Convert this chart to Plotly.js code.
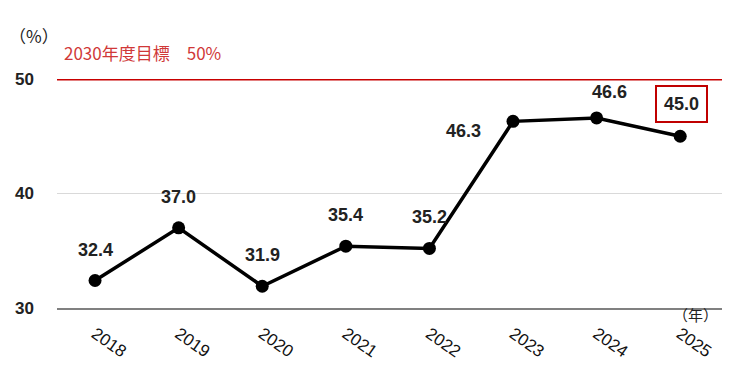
<!DOCTYPE html>
<html><head><meta charset="utf-8">
<script src="https://cdn.plot.ly/plotly-3.0.1.min.js"></script>
<style>html,body{margin:0;padding:0;background:#fff}#chart{width:740px;height:370px}</style>
</head><body><div id="chart"></div>
<script>
const years = ["2018","2019","2020","2021","2022","2023","2024","2025"];
const values = [32.4, 37.0, 31.9, 35.4, 35.2, 46.3, 46.6, 45.0];
const labels = ["32.4","37.0","31.9","35.4","35.2","46.3","46.6","45.0"];
const yTicks = [30, 40, 50];
const targetValue = 50;
const targetLabel = "2030年度目標　50%";

const numFont = "Liberation Sans, Arial, sans-serif";
const jpFont = "Noto Sans CJK JP, sans-serif";

// label pixel offsets
const lblShiftX = [0, 0, 0, 0, 0, -50, 13, 1];
const lblShiftY = [31, 31, 31, 31, 31, -10, 26, 32];

const annotations = years.map((yr, i) => {
  const a = {
    x: i, y: values[i], xref: 'x', yref: 'y',
    xanchor: 'center', yanchor: 'middle',
    text: '<b>' + labels[i] + '</b>', showarrow: false,
    xshift: lblShiftX[i], yshift: lblShiftY[i],
    font: {family: numFont, size: 18, color: '#222'}
  };
  if (i === years.length - 1) {
    a.bordercolor = '#c00000'; a.borderwidth = 2; a.borderpad = 7;
  }
  return a;
});
annotations.push({
  xref: 'paper', yref: 'y', x: 0.008, y: targetValue, yshift: 27, xanchor: 'left', yanchor: 'middle',
  text: targetLabel, showarrow: false,
  font: {family: jpFont, size: 17, color: '#d03838'}
});
annotations.push({
  xref: 'paper', yref: 'paper', x: 0, y: 1, yshift: 44, xshift: 4, xanchor: 'right', yanchor: 'middle',
  text: '（%）', showarrow: false,
  font: {family: jpFont, size: 17, color: '#222'}
});
annotations.push({
  xref: 'paper', yref: 'paper', x: 1.0, y: 0, yshift: -6, xshift: -2, xanchor: 'right', yanchor: 'middle',
  text: '（年）', showarrow: false,
  font: {family: jpFont, size: 15, color: '#222'}
});

const trace = {
  x: years, y: values, type: 'scatter', mode: 'lines+markers',
  line: {color: '#000', width: 3.5},
  marker: {color: '#000', size: 13},
  cliponaxis: false, hoverinfo: 'skip'
};

const layout = {
  width: 740, height: 370,
  margin: {l: 57, r: 18, t: 79, b: 62},
  paper_bgcolor: '#fff', plot_bgcolor: '#fff',
  showlegend: false,
  xaxis: {
    type: 'category', range: [-0.455, 7.5],
    showgrid: false, zeroline: false,
    showline: true, linecolor: '#808080', linewidth: 1.5,
    ticks: '', tickangle: 35, ticklabelstandoff: 8,
    tickfont: {family: numFont, size: 17, color: '#111'}
  },
  yaxis: {
    range: [30, 50], tickvals: yTicks, ticktext: yTicks.map(String),
    showgrid: true, gridcolor: '#d9d9d9', gridwidth: 1,
    zeroline: false, showline: false, ticks: '',
    ticklabelstandoff: 22,
    tickfont: {family: numFont, size: 17, color: '#222', weight: 'bold'}
  },
  shapes: [{
    type: 'line', xref: 'paper', yref: 'y', x0: 0, x1: 1, y0: targetValue, y1: targetValue,
    line: {color: '#c80000', width: 3}
  }],
  annotations: annotations
};
Plotly.newPlot('chart', [trace], layout, {displayModeBar: false, staticPlot: true});
</script></body></html>
